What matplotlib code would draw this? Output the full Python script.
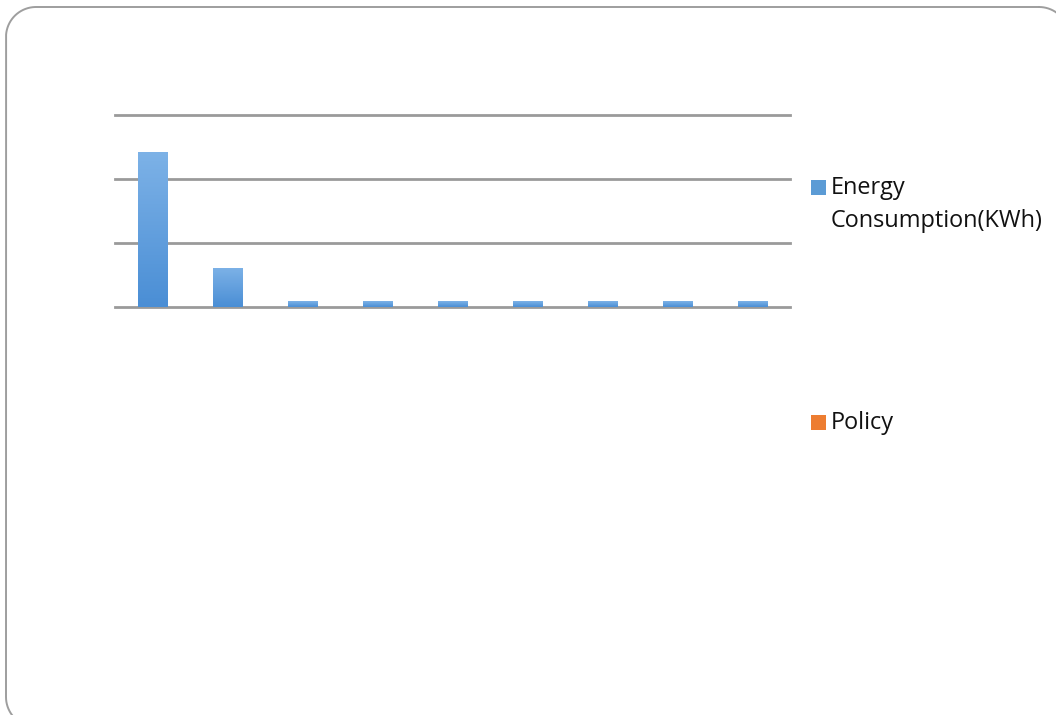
import numpy as np
import matplotlib.pyplot as plt
from matplotlib.patches import Rectangle
from matplotlib.colors import LinearSegmentedColormap

# Monthly records (category labels are hidden on the axis)
categories = ["1", "2", "3", "4", "5", "6", "7", "8", "9"]
energy_kwh = [2420, 610, 90, 90, 90, 90, 90, 90, 90]
policy = [0, 0, 0, 0, 0, 0, 0, 0, 0]
series_names = [["Energy", "Consumption(KWh)"], ["Policy"]]

W, H, DPI = 1056, 715, 100
fig = plt.figure(figsize=(W / DPI, H / DPI), dpi=DPI)
fig.patch.set_facecolor("white")

# Pixel-space layer (y measured downward) for the rounded slide frame
bg = fig.add_axes([0, 0, 1, 1])
bg.set_xlim(0, W)
bg.set_ylim(H, 0)
bg.axis("off")


def rounded_rect(x0, y0, x1, y1, r, n=40):
    """Outline of a rounded rectangle as a closed polyline."""
    pts = []
    corners = [(x1 - r, y0 + r, -90, 0), (x1 - r, y1 - r, 0, 90),
               (x0 + r, y1 - r, 90, 180), (x0 + r, y0 + r, 180, 270)]
    for cx, cy, a0, a1 in corners:
        t = np.radians(np.linspace(a0, a1, n))
        pts.append(np.column_stack([cx + r * np.cos(t), cy + r * np.sin(t)]))
    pts = np.vstack(pts)
    return np.vstack([pts, pts[:1]])


outline = rounded_rect(6, 7, 1069, 727, 30)
bg.plot(outline[:, 0], outline[:, 1], color="#9e9e9e", lw=1.4,
        solid_joinstyle="round", clip_on=False)

ax = fig.add_axes([115 / W, 1 - 307 / H, 675 / W, 192 / H])
x = np.arange(len(categories))
bars = ax.bar(x, energy_kwh, width=0.4, color="#5b9bd5", zorder=3)
ax.bar(x, policy, width=0.4, color="#ed7d31", zorder=3)

# Vertical gradient fill for each bar
blue_grad = LinearSegmentedColormap.from_list("bg", ["#4a8ed5", "#7db2e7"])
grad = np.linspace(0, 1, 256).reshape(-1, 1)
for b in bars:
    x0, y0 = b.get_x(), b.get_y()
    w, h = b.get_width(), b.get_height()
    im = ax.imshow(grad, cmap=blue_grad, origin="lower", aspect="auto",
                   extent=[x0, x0 + w, y0, y0 + h], zorder=4)
    im.set_clip_path(b)

ax.set_xlim(-0.5, len(categories) - 0.5)
ax.set_ylim(0, 3000)
ax.set_yticks([0, 1000, 2000, 3000])
ax.yaxis.grid(True, color="#9a9a9a", linewidth=2.0, zorder=1)
for gl in ax.get_ygridlines():
    gl.set_clip_on(False)
ax.set_axisbelow(True)
ax.tick_params(left=False, bottom=False, labelleft=False, labelbottom=False)
for s in ax.spines.values():
    s.set_visible(False)
ax.set_facecolor("none")

# Legend drawn at the right of the plot
font = ["Open Sans", "DejaVu Sans"]
legend_items = [(series_names[0], "#5b9bd5", 180, 194),
                (series_names[1], "#ed7d31", 415, 429)]
for lines, col, ytop, ybase in legend_items:
    fig.add_artist(Rectangle((811 / W, 1 - (ytop + 14.5) / H), 14.5 / W, 14.5 / H,
                             transform=fig.transFigure, facecolor=col,
                             edgecolor="none"))
    for i, line in enumerate(lines):
        fig.text(831 / W, 1 - (ybase + 33 * i) / H, line, ha="left",
                 va="baseline", fontsize=16.9, family=font, color="#111111")

fig.savefig("out.png", dpi=DPI, facecolor="white")
